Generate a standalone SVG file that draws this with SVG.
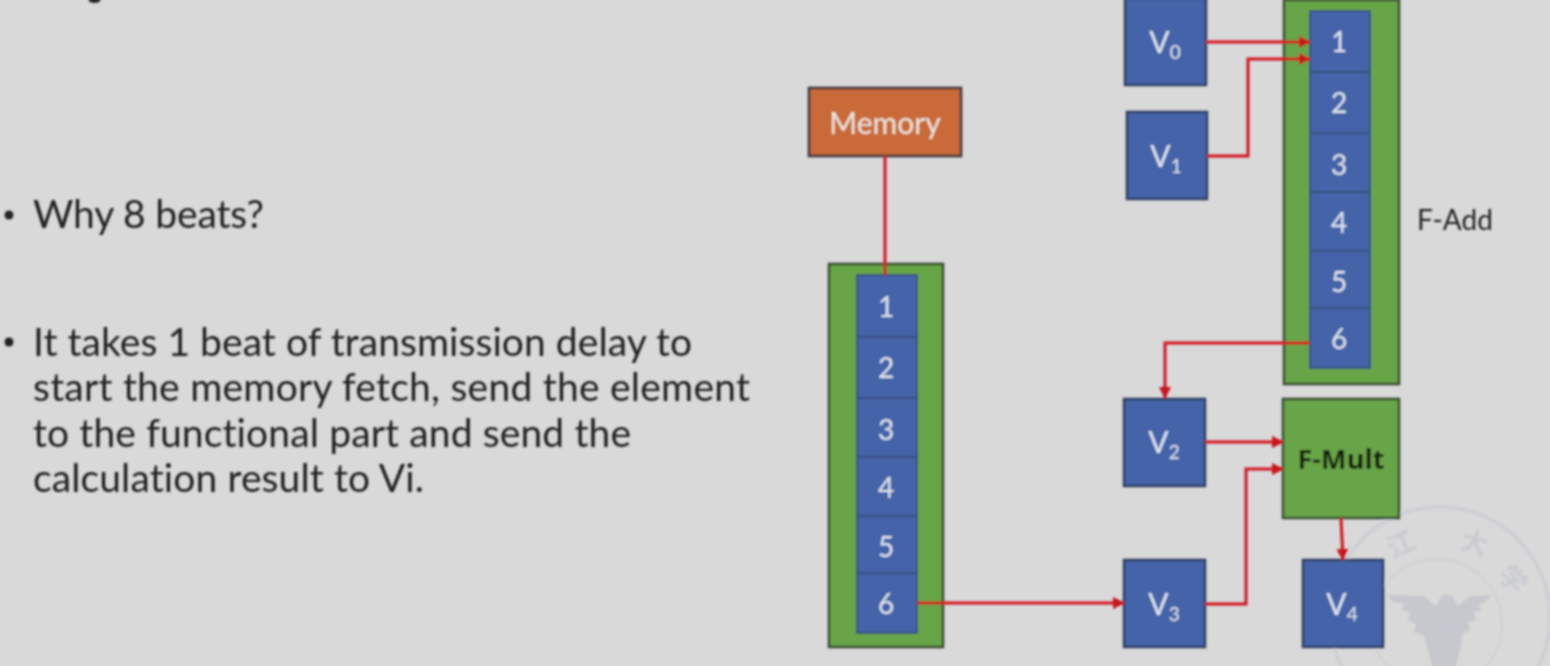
<svg xmlns="http://www.w3.org/2000/svg" width="1550" height="666" viewBox="0 0 1550 666">
<style>
text{font-family:"Lato","Open Sans",sans-serif;font-variant-ligatures:none}
.body{font-size:39px;fill:#222}
.bl{fill:#4464a8;stroke:#2e3c60;stroke-width:2.500}
.cell{fill:#4464a8;stroke:#38507f;stroke-width:2}
.gr{fill:#68a548;stroke:#35482e;stroke-width:2.500}
.v{font-size:30px;fill:#dfe4ee;text-anchor:middle}
.n{font-size:28px;fill:#dfe4ee;text-anchor:middle}
.sub{font-size:19px}
.c{fill:none;stroke:#d4141f;stroke-width:3}
.seal{fill:none;stroke:#cdcfd4}
.sealt{fill:#c9cbd0;font-family:"Noto Sans CJK SC",sans-serif;font-size:27px;font-weight:700;text-anchor:middle}
.bold{font-family:"Open Sans","Liberation Sans",sans-serif;font-size:26px;font-weight:700;fill:#141f0e;text-anchor:middle}
</style>
<defs>
<marker id="a" markerUnits="userSpaceOnUse" markerWidth="12" markerHeight="12" refX="11" refY="6" orient="auto"><path d="M0 0L12 6L0 12z" fill="#c8141f"/></marker>
<filter id="b" x="-2%" y="-2%" width="104%" height="104%"><feGaussianBlur stdDeviation="0.8"/></filter>
</defs>
<rect width="1550" height="666" fill="#d9d9d9"/>
<g filter="url(#b)">
<g id="watermark">
<circle class="seal" cx="1440" cy="617" r="110" stroke-width="3.500"/>
<circle class="seal" cx="1437" cy="624" r="65" stroke-width="1.500"/>
<text class="sealt" transform="translate(1405 553) rotate(-25)">江</text>
<text class="sealt" transform="translate(1472 552) rotate(15)">大</text>
<text class="sealt" transform="translate(1506 586) rotate(45)">学</text>
<path d="M1387 595L1424 596L1436 606L1443 594L1452 596L1458 606L1470 596L1492 595L1484 603L1478 604L1482 610L1474 612L1476 620L1468 622L1470 630L1462 634L1460 650L1456 666L1432 666L1428 650L1424 636L1414 632L1416 624L1408 620L1410 612L1402 610L1404 604L1394 602z" fill="#c6c8cd"/>
</g>
<ellipse cx="94.500" cy="0" rx="6" ry="3" fill="#222"/>
<g id="bullets">
<circle cx="9" cy="215" r="4.500" fill="#222"/>
<text class="body" x="33" y="228" textLength="231" lengthAdjust="spacing">Why 8 beats?</text>
<circle cx="9" cy="342" r="4.500" fill="#222"/>
<text class="body" x="33" y="356" textLength="659" lengthAdjust="spacing">It takes 1 beat of transmission delay to</text>
<text class="body" x="33" y="401" textLength="717" lengthAdjust="spacing">start the memory fetch, send the element</text>
<text class="body" x="33" y="447" textLength="598" lengthAdjust="spacing">to the functional part and send the</text>
<text class="body" x="33" y="492" textLength="391" lengthAdjust="spacing">calculation result to Vi.</text>
</g>
<g id="memory"><rect x="809" y="88" width="152" height="68" fill="#c96a38" stroke="#33333a" stroke-width="2.500"/><text x="885" y="134" font-size="30" fill="#ece4dc" text-anchor="middle">Memory</text></g>
<g id="load-unit">
<rect class="gr" x="829" y="264" width="114" height="383"/>
<rect class="cell" x="857" y="275" width="60" height="62"/><text class="n" x="886" y="317">1</text>
<rect class="cell" x="857" y="337" width="60" height="61"/><text class="n" x="886" y="378">2</text>
<rect class="cell" x="857" y="398" width="60" height="59"/><text class="n" x="886" y="440">3</text>
<rect class="cell" x="857" y="457" width="60" height="59"/><text class="n" x="886" y="498">4</text>
<rect class="cell" x="857" y="516" width="60" height="57"/><text class="n" x="886" y="557">5</text>
<rect class="cell" x="857" y="573" width="60" height="60"/><text class="n" x="886" y="614">6</text>
</g>
<g id="f-add">
<rect class="gr" x="1284" y="0" width="115" height="384"/>
<rect class="cell" x="1310" y="11" width="60" height="61"/><text class="n" x="1339" y="52">1</text>
<rect class="cell" x="1310" y="72" width="60" height="61"/><text class="n" x="1339" y="113">2</text>
<rect class="cell" x="1310" y="133" width="60" height="59"/><text class="n" x="1339" y="175">3</text>
<rect class="cell" x="1310" y="192" width="60" height="59"/><text class="n" x="1339" y="233">4</text>
<rect class="cell" x="1310" y="251" width="60" height="57"/><text class="n" x="1339" y="292">5</text>
<rect class="cell" x="1310" y="308" width="60" height="60"/><text class="n" x="1339" y="349">6</text>
<text x="1417" y="230" font-size="28" fill="#222">F-Add</text>
</g>
<g id="v0"><rect class="bl" x="1125" y="-2" width="81" height="87"/><text class="v" x="1165" y="53">V<tspan class="sub" dy="6">0</tspan></text></g>
<g id="v1"><rect class="bl" x="1127" y="112" width="80" height="87"/><text class="v" x="1166" y="167">V<tspan class="sub" dy="6">1</tspan></text></g>
<g id="v2"><rect class="bl" x="1124" y="399" width="81" height="87"/><text class="v" x="1164" y="453">V<tspan class="sub" dy="6">2</tspan></text></g>
<g id="v3"><rect class="bl" x="1124" y="560" width="81" height="87"/><text class="v" x="1164" y="615">V<tspan class="sub" dy="6">3</tspan></text></g>
<g id="v4"><rect class="bl" x="1303" y="560" width="80" height="87"/><text class="v" x="1342" y="615">V<tspan class="sub" dy="6">4</tspan></text></g>
<g id="f-mult"><rect class="gr" x="1283" y="399" width="116" height="119"/><text class="bold" x="1341" y="469" textLength="87" lengthAdjust="spacingAndGlyphs">F-Mult</text></g>
<g id="connectors">
<path class="c" d="M885 156V275"/>
<path class="c" d="M1206 42H1310" marker-end="url(#a)"/>
<path class="c" d="M1207 156H1248V59H1310" marker-end="url(#a)"/>
<path class="c" d="M1310 343H1165V398" marker-end="url(#a)"/>
<path class="c" d="M1205 442H1283" marker-end="url(#a)"/>
<path class="c" d="M1205 604H1246V469H1283" marker-end="url(#a)"/>
<path class="c" d="M917 603H1124" marker-end="url(#a)"/>
<path class="c" d="M1341 518L1343 560" marker-end="url(#a)"/>
</g>
</g>
</svg>
